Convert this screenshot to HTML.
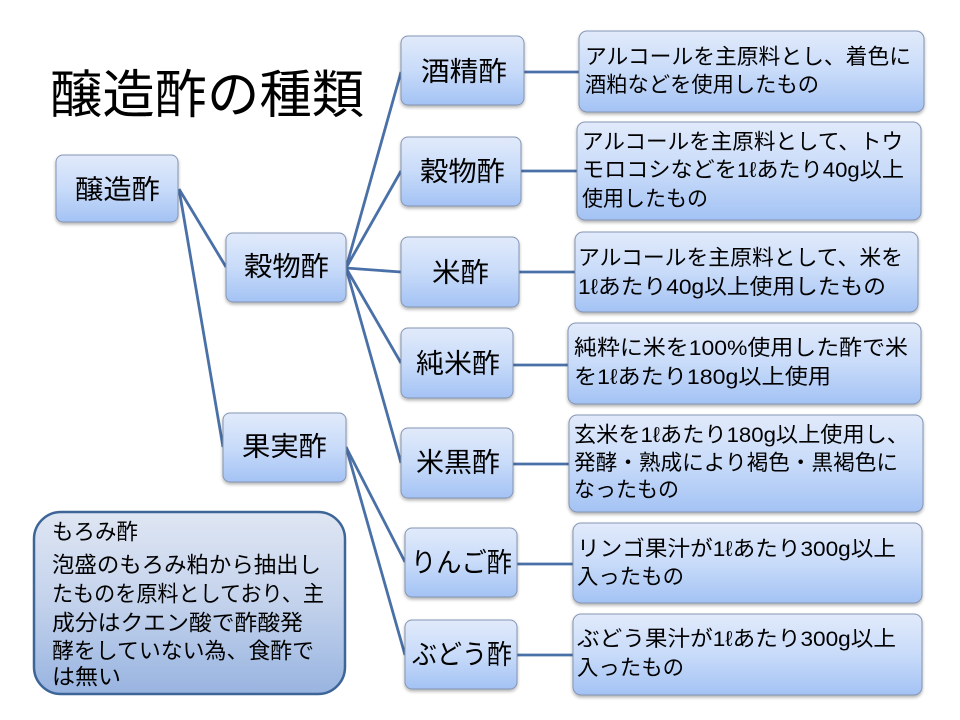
<!DOCTYPE html>
<html><head><meta charset="utf-8"><style>
html,body{margin:0;padding:0;background:#fff;}
svg{display:block;}
text{font-family:"Liberation Sans","Noto Sans CJK JP",sans-serif;fill:#000;}
</style></head><body>
<svg width="960" height="720" viewBox="0 0 960 720" xmlns="http://www.w3.org/2000/svg">
<defs>
<linearGradient id="g" x1="0" y1="0" x2="0" y2="1">
<stop offset="0" stop-color="#e1eafb"/><stop offset="0.5" stop-color="#c8dbf9"/><stop offset="1" stop-color="#a3c2f4"/>
</linearGradient>
<linearGradient id="g2" x1="0" y1="0" x2="0" y2="1">
<stop offset="0" stop-color="#dfe6f3"/><stop offset="0.5" stop-color="#c3d2ec"/><stop offset="1" stop-color="#98b4e0"/>
</linearGradient>
<filter id="sh" x="-10%" y="-10%" width="120%" height="130%">
<feDropShadow dx="0" dy="2" stdDeviation="1.5" flood-color="#000" flood-opacity="0.3"/>
</filter>
</defs>

<!-- connectors -->
<g stroke="#4a70a8" stroke-width="2.8" fill="none">
<line x1="179" y1="189" x2="226" y2="267"/>
<line x1="179" y1="189" x2="223" y2="447"/>
<line x1="346" y1="268" x2="401" y2="72"/>
<line x1="346" y1="268" x2="401" y2="171"/>
<line x1="346" y1="268" x2="401" y2="272"/>
<line x1="346" y1="268" x2="401" y2="363"/>
<line x1="346" y1="268" x2="401" y2="463"/>
<line x1="346" y1="447" x2="405" y2="562"/>
<line x1="346" y1="447" x2="405" y2="655"/>
<line x1="524" y1="72" x2="579" y2="72"/>
<line x1="521" y1="171" x2="577" y2="171"/>
<line x1="519" y1="272" x2="575" y2="272"/>
<line x1="513" y1="365" x2="568" y2="365"/>
<line x1="513" y1="464" x2="569" y2="464"/>
<line x1="517" y1="564" x2="573" y2="564"/>
<line x1="517" y1="655" x2="573" y2="655"/>
</g>

<!-- title -->
<text x="50" y="96" font-size="52" dominant-baseline="central" textLength="314" lengthAdjust="spacingAndGlyphs">醸造酢の種類</text>

<!-- node boxes -->
<g fill="url(#g)" stroke="#8596b3" stroke-width="1" filter="url(#sh)">
<rect x="56" y="155" width="122" height="67" rx="7"/>
<rect x="226" y="233" width="120" height="69" rx="7"/>
<rect x="223" y="413" width="123" height="69" rx="7"/>
<rect x="401" y="36" width="123" height="69" rx="7"/>
<rect x="401" y="137" width="120" height="69" rx="7"/>
<rect x="401" y="237" width="118" height="70" rx="7"/>
<rect x="401" y="328" width="112" height="70" rx="7"/>
<rect x="401" y="428" width="112" height="70" rx="7"/>
<rect x="405" y="528" width="112" height="69" rx="7"/>
<rect x="405" y="620" width="112" height="69" rx="7"/>
<rect x="579" y="31" width="345" height="81" rx="8"/>
<rect x="577" y="122" width="344" height="98" rx="8"/>
<rect x="575" y="232" width="343" height="80" rx="8"/>
<rect x="568" y="323" width="353" height="81" rx="8"/>
<rect x="569" y="415" width="354" height="97" rx="8"/>
<rect x="573" y="523" width="349" height="80" rx="8"/>
<rect x="573" y="614" width="349" height="81" rx="8"/>
</g>

<!-- moromi box -->
<rect x="34" y="512" width="311" height="182" rx="27" fill="url(#g2)" stroke="#3d6598" stroke-width="2.5"/>

<!-- node labels -->
<g font-size="27" dominant-baseline="central">
<text x="75" y="190" textLength="85" lengthAdjust="spacingAndGlyphs">醸造酢</text>
<text x="244" y="267" textLength="85" lengthAdjust="spacingAndGlyphs">穀物酢</text>
<text x="242" y="447" textLength="85" lengthAdjust="spacingAndGlyphs">果実酢</text>
<text x="421" y="72" textLength="86" lengthAdjust="spacingAndGlyphs">酒精酢</text>
<text x="420" y="172" textLength="85" lengthAdjust="spacingAndGlyphs">穀物酢</text>
<text x="432" y="273" textLength="57" lengthAdjust="spacingAndGlyphs">米酢</text>
<text x="416" y="364" textLength="84" lengthAdjust="spacingAndGlyphs">純米酢</text>
<text x="416" y="463" textLength="84" lengthAdjust="spacingAndGlyphs">米黒酢</text>
<text x="411" y="563" textLength="101" lengthAdjust="spacingAndGlyphs">りんご酢</text>
<text x="412" y="655" textLength="100" lengthAdjust="spacingAndGlyphs">ぶどう酢</text>
</g>

<!-- description text -->
<g font-size="21.5" dominant-baseline="central">
<text x="585" y="57" textLength="326" lengthAdjust="spacingAndGlyphs">アルコールを主原料とし、着色に</text>
<text x="585" y="85" textLength="234" lengthAdjust="spacingAndGlyphs">酒粕などを使用したもの</text>

<text x="582" y="142" textLength="321" lengthAdjust="spacingAndGlyphs">アルコールを主原料として、トウ</text>
<text x="582" y="170" textLength="322" lengthAdjust="spacingAndGlyphs">モロコシなどを1ℓあたり40g以上</text>
<text x="582" y="199" textLength="126" lengthAdjust="spacingAndGlyphs">使用したもの</text>

<text x="578" y="258" textLength="325" lengthAdjust="spacingAndGlyphs">アルコールを主原料として、米を</text>
<text x="578" y="287" textLength="308" lengthAdjust="spacingAndGlyphs">1ℓあたり40g以上使用したもの</text>

<text x="574" y="348" textLength="334" lengthAdjust="spacingAndGlyphs">純粋に米を100%使用した酢で米</text>
<text x="574" y="377" textLength="257" lengthAdjust="spacingAndGlyphs">を1ℓあたり180g以上使用</text>

<text x="574" y="435" textLength="335" lengthAdjust="spacingAndGlyphs">玄米を1ℓあたり180g以上使用し、</text>
<text x="574" y="463" textLength="324" lengthAdjust="spacingAndGlyphs">発酵・熟成により褐色・黒褐色に</text>
<text x="574" y="490" textLength="105" lengthAdjust="spacingAndGlyphs">なったもの</text>

<text x="577" y="549" textLength="319" lengthAdjust="spacingAndGlyphs">リンゴ果汁が1ℓあたり300g以上</text>
<text x="577" y="577" textLength="107" lengthAdjust="spacingAndGlyphs">入ったもの</text>

<text x="577" y="639" textLength="319" lengthAdjust="spacingAndGlyphs">ぶどう果汁が1ℓあたり300g以上</text>
<text x="577" y="668" textLength="107" lengthAdjust="spacingAndGlyphs">入ったもの</text>
</g>

<!-- moromi text -->
<g font-size="22" dominant-baseline="central">
<text x="52" y="532" textLength="86" lengthAdjust="spacingAndGlyphs">もろみ酢</text>
<text x="52" y="565" textLength="269" lengthAdjust="spacingAndGlyphs">泡盛のもろみ粕から抽出し</text>
<text x="52" y="594" textLength="272" lengthAdjust="spacingAndGlyphs">たものを原料としており、主</text>
<text x="52" y="623" textLength="251" lengthAdjust="spacingAndGlyphs">成分はクエン酸で酢酸発</text>
<text x="52" y="651" textLength="262" lengthAdjust="spacingAndGlyphs">酵をしていない為、食酢で</text>
<text x="52" y="677" textLength="69" lengthAdjust="spacingAndGlyphs">は無い</text>
</g>
</svg>
</body></html>
